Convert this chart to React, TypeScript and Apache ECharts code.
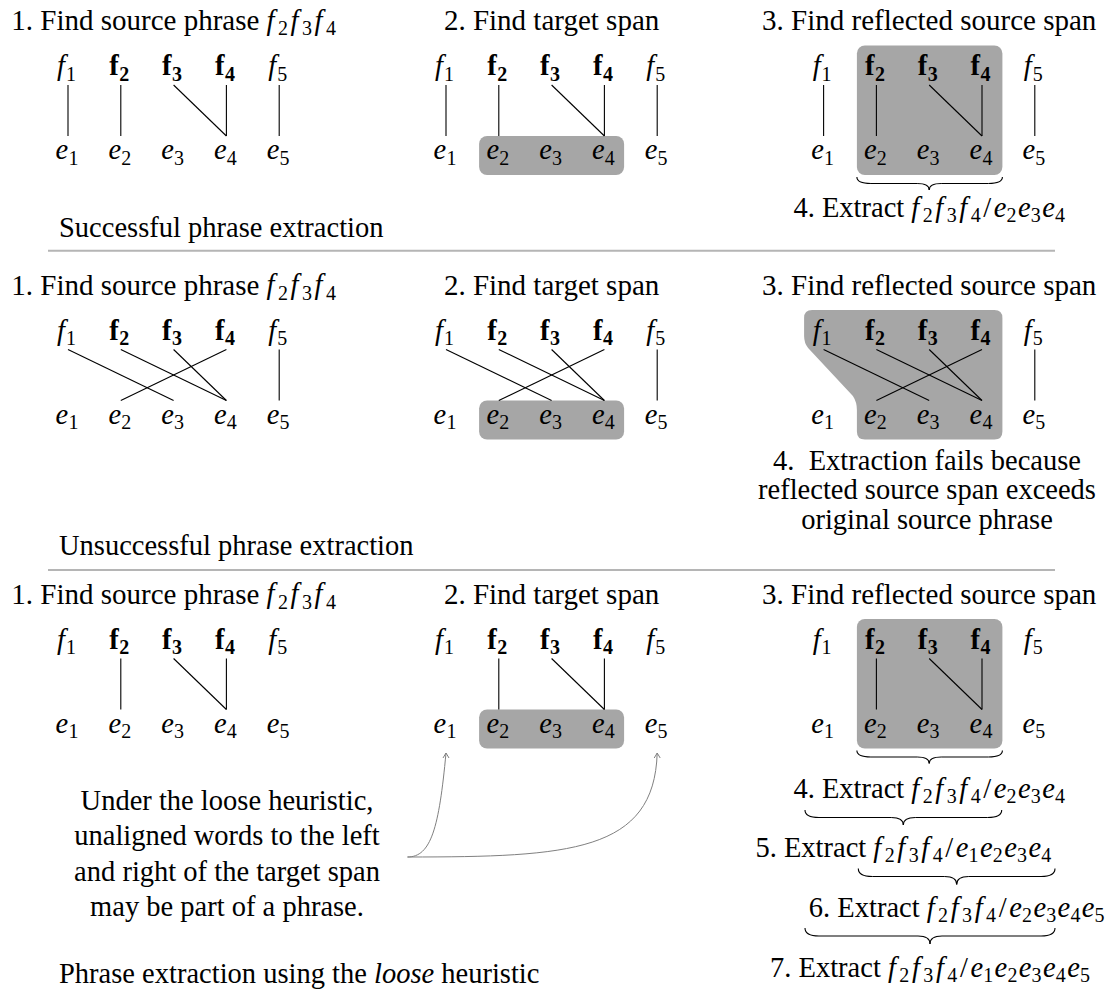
import React, { useEffect, useRef } from 'react';
import * as echarts from 'echarts';

// ---------------- data ----------------
const sourceIndices = [1, 2, 3, 4, 5];
const targetIndices = [1, 2, 3, 4, 5];
const phraseIndices = [2, 3, 4];
const alignmentsByRow: [number, number][][] = [
  [[1, 1], [2, 2], [3, 4], [4, 4], [5, 5]],
  [[1, 3], [2, 4], [3, 4], [4, 2], [5, 5]],
  [[2, 2], [3, 4], [4, 4]],
];
const stepTitles = ['1. Find source phrase ', '2. Find target span', '3. Find reflected source span'];
const rowLabels = ['Successful phrase extraction', 'Unsuccessful phrase extraction', 'Phrase extraction using the '];
const looseWord = 'loose';
const looseTail = ' heuristic';
const failureLines = ['4.\u00a0 Extraction fails because', 'reflected source span exceeds', 'original source phrase'];
const looseNote = ['Under the loose heuristic,', 'unaligned words to the left', 'and right of the target span', 'may be part of a phrase.'];
const targetSpan = [2, 3, 4];
const extractSteps: { n: string; e: number[] }[] = [
  { n: '4', e: [2, 3, 4] },
  { n: '5', e: [1, 2, 3, 4] },
  { n: '6', e: [2, 3, 4, 5] },
  { n: '7', e: [1, 2, 3, 4, 5] },
];

// ---------------- layout ----------------
const W = 1110;
const H = 997;
const FF = '"Liberation Serif", "Times New Roman", Times, serif';
const FS = 28.5;
const FS_TITLE = 29;
const SS = 20;
const SUB_DY = 5;
const CENTRAL = 0.3375;
const BOX = '#a6a6a6';
const PANEL_CX = [173.6, 551.6, 929.2];
const COL_STEP = 52.8;
const ROW_DY = [0, 264.5, 573.5];
const col = (p: number, k: number) => PANEL_CX[p] + (k - 3) * COL_STEP;

type Kind = 'r' | 'i' | 'b' | 's' | 'bs';
type Tok = { t: string; k: Kind; ex?: number; sz?: number };

let ctx: CanvasRenderingContext2D | null = null;
function fontParts(tk: Tok) {
  const k = tk.k;
  const sub = k === 's' || k === 'bs';
  return {
    size: tk.sz || (sub ? SS : FS),
    style: k === 'i' ? 'italic' : 'normal',
    weight: k === 'b' || k === 'bs' ? 'bold' : 'normal',
  };
}
function measure(tk: Tok) {
  if (!ctx) ctx = document.createElement('canvas').getContext('2d');
  const f = fontParts(tk);
  ctx!.font = `${f.style} ${f.weight} ${f.size}px ${FF}`;
  return ctx!.measureText(tk.t).width;
}

function seq(tokens: Tok[], x: number, bl: number, align: 'left' | 'center', out: any[]) {
  const ws = tokens.map((tk) => measure(tk) + (tk.ex || 0));
  const total = ws.reduce((a, b) => a + b, 0) - (tokens[tokens.length - 1].ex || 0);
  let cx = align === 'left' ? x : x - total / 2;
  tokens.forEach((tk, i) => {
    const f = fontParts(tk);
    const sub = tk.k === 's' || tk.k === 'bs';
    const base = bl + (sub ? SUB_DY : 0);
    out.push({
      type: 'text',
      x: cx,
      y: base - CENTRAL * f.size,
      silent: true,
      style: {
        text: tk.t,
        fontSize: f.size,
        fontFamily: FF,
        fontStyle: f.style,
        fontWeight: f.weight,
        fill: '#000',
        align: 'left',
        verticalAlign: 'middle',
      },
    });
    cx += ws[i];
  });
}

const fTok = (i: number, bold: boolean, ex: number, trail: number): Tok[] =>
  bold
    ? [{ t: 'f', k: 'b', ex: 0.5 }, { t: String(i), k: 'bs', ex: trail }]
    : [{ t: 'f', k: 'i', ex }, { t: String(i), k: 's', ex: trail }];
const eTok = (i: number, trail: number): Tok[] => [{ t: 'e', k: 'i', ex: 0.15 }, { t: String(i), k: 's', ex: trail }];
const fPhrase = (): Tok[] => phraseIndices.flatMap((i) => fTok(i, false, 3.4, 2.7));
const ePhrase = (idx: number[]): Tok[] => idx.flatMap((i) => eTok(i, 1.4));
const extractTokens = (n: string, e: number[]): Tok[] => [
  { t: `${n}. Extract `, k: 'r' },
  ...fPhrase(),
  { t: '/', k: 'r', ex: 2.5 },
  ...ePhrase(e),
];

function line(x1: number, y1: number, x2: number, y2: number, stroke = '#000', lw = 1.1) {
  return { type: 'line', silent: true, shape: { x1, y1, x2, y2 }, style: { stroke, lineWidth: lw, fill: 'none' } };
}
function quad(x1: number, y1: number, cx: number, cy: number, x2: number, y2: number, stroke = '#000', lw = 1.1) {
  return {
    type: 'bezierCurve',
    silent: true,
    shape: { x1, y1, x2, y2, cpx1: cx, cpy1: cy },
    style: { stroke, lineWidth: lw, fill: 'none' },
  };
}
function brace(x0: number, x1: number, xm: number, y0: number, h: number, out: any[]) {
  const mid = y0 + h / 2;
  const re = 14;
  const rt = 12;
  out.push(quad(x0, y0, x0, mid, x0 + re, mid));
  out.push(line(x0 + re, mid, xm - rt, mid));
  out.push(quad(xm - rt, mid, xm, mid, xm, y0 + h));
  out.push(quad(xm + rt, mid, xm, mid, xm, y0 + h));
  out.push(line(xm + rt, mid, x1 - re, mid));
  out.push(quad(x1 - re, mid, x1, mid, x1, y0));
}

function reflBoxPath(top: number, left: number, innerLeft: number, right: number, bottom: number) {
  const r = 8;
  return [
    `M ${left + r} ${top}`,
    `L ${right - r} ${top} Q ${right} ${top} ${right} ${top + r}`,
    `L ${right} ${bottom - r} Q ${right} ${bottom} ${right - r} ${bottom}`,
    `L ${innerLeft + r} ${bottom} Q ${innerLeft} ${bottom} ${innerLeft} ${bottom - r}`,
    `L ${innerLeft} ${top + 100} Q ${innerLeft} ${top + 92} ${innerLeft - 4} ${top + 86}`,
    `L ${left + 4} ${top + 38} Q ${left} ${top + 33} ${left} ${top + 26}`,
    `L ${left} ${top + r} Q ${left} ${top} ${left + r} ${top} Z`,
  ].join(' ');
}

function buildOption() {
  const els: any[] = [];
  const texts: any[] = [];

  // separators
  els.push(line(48, 250.7, 1055, 250.7, '#b5b5b5', 2));
  els.push(line(48, 570, 1055, 570, '#b5b5b5', 2));

  ROW_DY.forEach((dy, r) => {
    // shaded boxes
    const midL = col(1, targetSpan[0]) - 19.7;
    const midR = col(1, targetSpan[targetSpan.length - 1]) + 19.7;
    els.push({ type: 'rect', silent: true, shape: { x: midL, y: dy + 136, width: midR - midL, height: 39, r: 8 }, style: { fill: BOX } });
    const rL = col(2, phraseIndices[0]) - 19.5;
    const rR = col(2, phraseIndices[phraseIndices.length - 1]) + 20.4;
    if (r === 1) {
      const d = reflBoxPath(dy + 45.5, col(2, 1) - 19.5, rL, rR, dy + 175);
      echarts.graphic.registerShape('reflBoxShape', (echarts.graphic as any).extendPath(d, {}));
      els.push({ type: 'reflBoxShape', silent: true, style: { fill: BOX } });
    } else {
      els.push({ type: 'rect', silent: true, shape: { x: rL, y: dy + 45.5, width: rR - rL, height: 129.5, r: 8 }, style: { fill: BOX } });
      brace(rL, rR, col(2, 3), dy + 177, 13, els);
    }

    for (let p = 0; p < 3; p++) {
      // alignment links
      alignmentsByRow[r].forEach(([fi, ei]) => {
        els.push(line(col(p, fi), dy + 85, col(p, ei), dy + 136));
      });
      // node labels
      sourceIndices.forEach((i) => {
        seq(fTok(i, phraseIndices.includes(i), 1, 0), col(p, i) - 1.5, dy + 75.5, 'center', texts);
      });
      targetIndices.forEach((i) => {
        seq(eTok(i, 0), col(p, i) - 1, dy + 159.5, 'center', texts);
      });
      // titles
      const tt: Tok[] = p === 0
        ? [{ t: stepTitles[0], k: 'r', sz: FS_TITLE }, ...fPhrase()]
        : [{ t: stepTitles[p], k: 'r', sz: FS_TITLE }];
      seq(tt, PANEL_CX[p], dy + 30, 'center', texts);
    }
  });

  // row labels
  seq([{ t: rowLabels[0], k: 'r' }], 59, 237, 'left', texts);
  seq([{ t: rowLabels[1], k: 'r' }], 59, 555, 'left', texts);
  seq([{ t: rowLabels[2], k: 'r' }, { t: looseWord, k: 'i' }, { t: looseTail, k: 'r' }], 59, 983, 'left', texts);

  // row 1 extraction
  seq(extractTokens(extractSteps[0].n, extractSteps[0].e), col(2, 3), 216.7, 'center', texts);

  // row 2 failure note
  const failBl = [470, 499.5, 529.5];
  failureLines.forEach((t, i) => seq([{ t, k: 'r' }], 927, failBl[i], 'center', texts));

  // row 3 loose note
  const noteBl = [810, 845.3, 880.7, 916];
  looseNote.forEach((t, i) => seq([{ t, k: 'r' }], 227, noteBl[i], 'center', texts));

  // row 3 arrows
  const grey = '#808080';
  const sx = 407.5;
  const sy = 857;
  const tipY = ROW_DY[2] + 179.5;
  const lx = col(1, 1);
  const rx = col(1, 5);
  els.push({ type: 'bezierCurve', silent: true, shape: { x1: sx, y1: sy, cpx1: 431, cpy1: sy, cpx2: lx - 7, cpy2: 828, x2: lx, y2: tipY }, style: { stroke: grey, lineWidth: 1, fill: 'none' } });
  els.push({ type: 'bezierCurve', silent: true, shape: { x1: sx, y1: sy, cpx1: 570, cpy1: sy, cpx2: rx - 3, cpy2: 852, x2: rx, y2: tipY }, style: { stroke: grey, lineWidth: 1, fill: 'none' } });
  [lx, rx].forEach((x) => {
    els.push({ type: 'polyline', silent: true, shape: { points: [[x - 3, tipY + 5], [x, tipY], [x + 3, tipY + 5]] }, style: { stroke: grey, lineWidth: 1, fill: 'none' } });
  });

  // row 3 extraction cascade
  const braces = [
    { x0: col(2, 2) - 19.5, x1: col(2, 4) + 20.4, xm: col(2, 3), y: 750.5, h: 13 },
    { x0: 805, x1: 1001.7, xm: 903.3, y: 810, h: 15 },
    { x0: 858.3, x1: 1055, xm: 956.7, y: 868.5, h: 16 },
    { x0: 805, x1: 1055, xm: 930, y: 928, h: 16 },
  ];
  braces.slice(1).forEach((b) => brace(b.x0, b.x1, b.xm, b.y, b.h, els));
  const stepBl = [797.7, 856.7, 916.7, 976.7];
  extractSteps.forEach((s, i) => {
    seq(extractTokens(s.n, s.e), braces[i].xm, stepBl[i], 'center', texts);
  });

  return {
    animation: false,
    backgroundColor: '#fff',
    graphic: { elements: [...els, ...texts] },
  };
}

export default function App() {
  const ref = useRef<HTMLDivElement>(null);
  useEffect(() => {
    const chart = echarts.init(ref.current!, null, { renderer: 'svg', width: W, height: H });
    chart.setOption(buildOption() as any);
    return () => chart.dispose();
  }, []);
  return <div ref={ref} style={{ position: 'fixed', left: 0, top: 0, width: W, height: H, background: '#fff' }} />;
}
